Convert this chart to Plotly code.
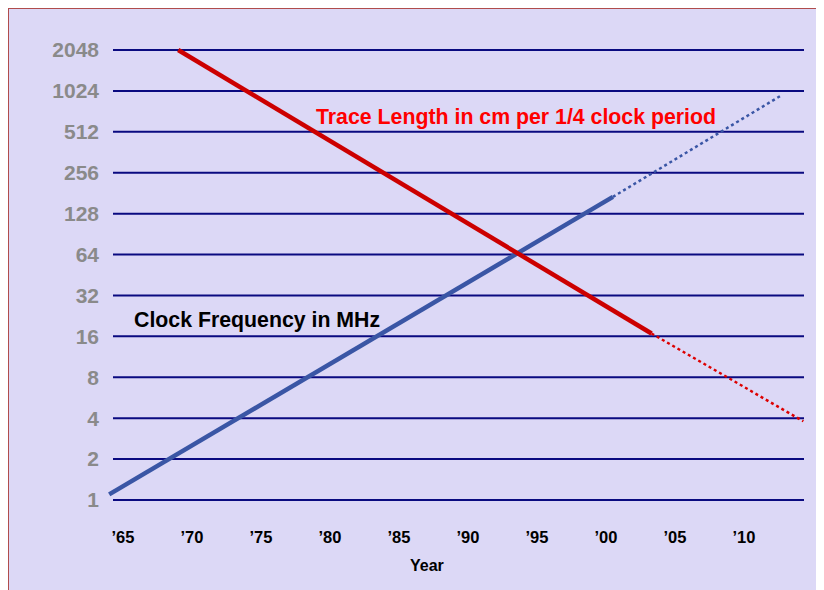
import plotly.graph_objects as go

# ---- data ----
tick_years = [1965, 1970, 1975, 1980, 1985, 1990, 1995, 2000, 2005, 2010]
tick_year_labels = ["’65", "’70", "’75", "’80", "’85", "’90", "’95", "’00", "’05", "’10"]
y_tick_values = [1, 2, 4, 8, 16, 32, 64, 128, 256, 512, 1024, 2048]
y_tick_labels = [str(v) for v in y_tick_values]

clock_years = [1964.0, 2000.5]
clock_mhz = [1.1, 170]
clock_proj_years = [2000.5, 2012.75]
clock_proj_mhz = [170, 955]

trace_years = [1969.0, 2003.3]
trace_cm = [2048, 16.8]
trace_proj_years = [2003.3, 2014.3]
trace_proj_cm = [16.8, 3.8]

# ---- layout geometry (screen coords; page offset of 8px) ----
OFF = 8
W, H = 824, 590
PX0, PX1, PY0, PY1 = 100, 810, 30, 520   # plot area on screen
L = PX0 - OFF
T = PY0 - OFF
pw, ph = PX1 - PX0, PY1 - PY0
R = W - L - pw
B = H - T - ph

def px(xs):
    return (xs - PX0) / pw

def py(ys):
    return (PY1 - ys) / ph

FONT = "Liberation Sans"
BG = "#DCD8F6"

fig = go.Figure()

fig.add_trace(go.Scatter(x=clock_years, y=clock_mhz, mode="lines",
                         line=dict(color="#3A56A5", width=4.5), showlegend=False))
fig.add_trace(go.Scatter(x=clock_proj_years, y=clock_proj_mhz, mode="lines",
                         line=dict(color="#3A56A5", width=2.5, dash="dot"), showlegend=False))
fig.add_trace(go.Scatter(x=trace_years, y=trace_cm, mode="lines",
                         line=dict(color="#CC0000", width=4.5), showlegend=False))
fig.add_trace(go.Scatter(x=trace_proj_years, y=trace_proj_cm, mode="lines",
                         line=dict(color="#DD0000", width=2.5, dash="dot"), showlegend=False))

shapes = []
# background frame
shapes.append(dict(type="rect", xref="paper", yref="paper",
                   x0=px(8), x1=px(W + 40), y0=py(H + 40), y1=py(8),
                   fillcolor=BG, line=dict(color="#B04C4C", width=2), layer="below"))
# horizontal grid lines
for v in y_tick_values:
    shapes.append(dict(type="line", xref="paper", yref="y",
                       x0=px(113), x1=px(804), y0=v, y1=v,
                       line=dict(color="#0A0A80", width=2), layer="below"))

annotations = [
    dict(text="<b>Trace Length in cm per 1/4 clock period</b>", xref="paper", yref="paper",
         x=px(516), y=py(117), showarrow=False, xanchor="center", yanchor="middle",
         font=dict(family=FONT, size=21.3, color="#FF0000")),
    dict(text="<b>Clock Frequency in MHz</b>", xref="paper", yref="paper",
         x=px(257), y=py(320), showarrow=False, xanchor="center", yanchor="middle",
         font=dict(family=FONT, size=21.3, color="#000000")),
    dict(text="<b>Year</b>", xref="paper", yref="paper",
         x=px(427), y=py(565), showarrow=False, xanchor="center", yanchor="middle",
         font=dict(family=FONT, size=16, color="#000000")),
]

LOG2 = 0.30102999566
fig.update_layout(
    width=W, height=H,
    margin=dict(l=L, r=R, t=T, b=B),
    paper_bgcolor="white",
    plot_bgcolor="rgba(0,0,0,0)",
    font=dict(family=FONT),
    shapes=shapes,
    annotations=annotations,
    xaxis=dict(range=[1965 - 23 / 13.8, 1965 + 687 / 13.8], tickmode="array",
               tickvals=tick_years, ticktext=tick_year_labels,
               showgrid=False, zeroline=False, showline=False, ticks="",
               tickfont=dict(family=FONT, size=16.5, color="#000000", weight="bold"),
               ticklabelstandoff=5),
    yaxis=dict(type="log", range=[(-20 / 41) * LOG2, (11 + 20 / 41) * LOG2],
               tickmode="array", tickvals=y_tick_values,
               ticktext=y_tick_labels,
               showgrid=False, zeroline=False, showline=False, ticks="",
               tickfont=dict(family=FONT, size=21, color="#8A8A8A", weight="bold"),
               ticklabelstandoff=0),
)

fig.write_html("out.html")
